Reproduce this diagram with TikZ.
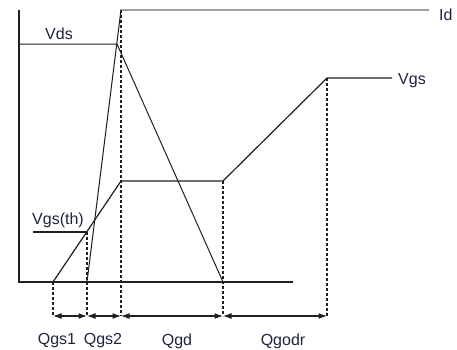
\documentclass[tikz,border=0pt]{standalone}
\usepackage{fontspec}
\setmainfont{Liberation Sans}
\usetikzlibrary{arrows.meta,positioning}
\definecolor{gcInk}{HTML}{1E2340}
\definecolor{gcLine}{HTML}{202020}
\definecolor{gcMuted}{HTML}{A0A0A0}

\begin{document}
\begin{tikzpicture}[
    x=1pt, y=-1pt, >={Latex[length=8.5pt,width=6pt]},
    axis/.style={draw=gcLine, line width=1.4pt},
    trace/.style={draw=gcLine, line width=1pt},
    guide/.style={draw=gcLine, line width=1.3pt, dash pattern=on 3pt off 2pt},
    span/.style={<->, draw=gcLine, line width=1.1pt},
    lab/.style={font=\fontsize{16}{18}\selectfont, text=gcInk, inner sep=0pt},
  ]
  \useasboundingbox (0,0) rectangle (457,349);
  % axes
  \coordinate (O) at (19,282);
  \coordinate (Ytop) at (19,10);
  \coordinate (Xend) at (293,282);
  \draw[axis] (Ytop) -- (O) -- (Xend);
  % gate voltage
  \coordinate (G0) at (53,282);
  \coordinate (Gth) at (87,232);
  \coordinate (Gp1) at (121,181);
  \coordinate (Gp2) at (223,181);
  \coordinate (Gtop) at (327,78);
  \coordinate (Gend) at (392,78);
  \draw[trace, line width=1.2pt] (G0) -- (Gp1) -- (Gp2) -- (Gtop) -- (Gend);
  \node[lab, anchor=west] (vgs) at (398,81) {Vgs};
  % threshold
  \coordinate (Th0) at (33,232);
  \draw[trace, line width=1.2pt] (Th0) -- (Gth);
  \node[lab, anchor=west] (vth) at (32,220) {Vgs(th)};
  % drain voltage
  \coordinate (D0) at (19,44);
  \coordinate (D1) at (117,44);
  \coordinate (D2) at (223,282);
  \draw[trace] (D0) -- (D1) -- (D2);
  \node[lab, anchor=west] (vds) at (45,34) {Vds};
  % drain current
  \coordinate (I0) at (87,282);
  \coordinate (Ipk) at (121,10);
  \coordinate (Iend) at (429,10);
  \draw[trace] (I0) -- (Ipk);
  \draw[draw=gcMuted, line width=1.8pt] (Ipk) -- (Iend);
  \node[lab, anchor=west] (id) at (439,15) {Id};
  % charge intervals
  \coordinate (q0) at (53,316);
  \coordinate (q1) at (87,316);
  \coordinate (q2) at (121,316);
  \coordinate (q3) at (223,316);
  \coordinate (q4) at (327,316);
  \draw[guide] (G0) -- (q0);
  \draw[guide] (Gth) -- (q1);
  \draw[guide] (Ipk) -- (q2);
  \draw[guide] (Gp2) -- (q3);
  \draw[guide] (Gtop) -- (q4);
  \draw[span] (q0) -- (q1);
  \draw[span] (q1) -- (q2);
  \draw[span] (q2) -- (q3);
  \draw[span] (q3) -- (q4);
  \node[lab] (qgs1) at (57,341) {Qgs1};
  \node[lab] (qgs2) at (103,341) {Qgs2};
  \node[lab] (qgd) at (177,341) {Qgd};
  \node[lab] (qgodr) at (283,341) {Qgodr};
\end{tikzpicture}
\end{document}
